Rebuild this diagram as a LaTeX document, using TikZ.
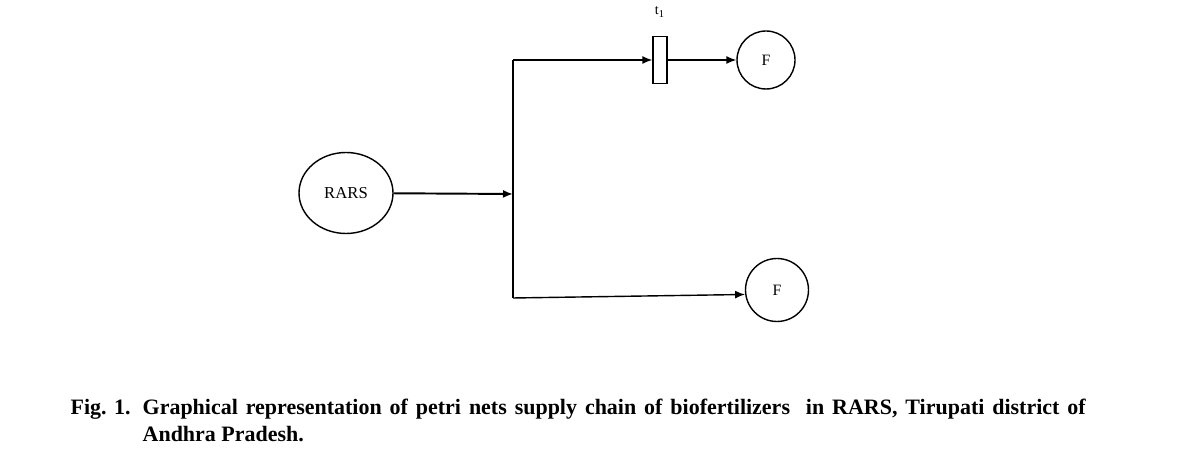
\documentclass[tikz,border=0pt]{standalone}
\usepackage{fontspec}
\setmainfont{Liberation Serif}
\usetikzlibrary{positioning, shapes.geometric, arrows, arrows.meta}

\begin{document}
\begin{tikzpicture}[>={Latex[length=2mm, width=1.6mm]}, line width=0.8pt]
            \useasboundingbox (0, 0) rectangle (23.78, 9.3);

            \node [shape = ellipse, draw = black, inner sep = 0pt, minimum width = 1.88cm, minimum height = 1.62cm, font = \fontsize{9.5}{11}\selectfont] (rars) at (6.92, 5.44) {RARS};
            \coordinate (jmid) at (10.26, 5.42);
            \coordinate (jtop) at (10.26, 8.10);
            \coordinate (jbot) at (10.26, 3.34);
            \node [shape = rectangle, draw = black, inner sep = 0pt, minimum width = 0.28cm, minimum height = 0.94cm] (t1) at (13.2, 8.10) {};
            \node [font = \fontsize{8}{9}\selectfont] (t1label) at (13.2, 9.06) {t\textsubscript{1}};
            \node [shape = circle, draw = black, inner sep = 0pt, minimum size = 1.16cm, font = \fontsize{9}{10}\selectfont] (ftop) at (15.32, 8.10) {F};
            \node [shape = circle, draw = black, inner sep = 0pt, minimum size = 1.26cm, font = \fontsize{9}{10}\selectfont] (fbot) at (15.54, 3.50) {F};

            \draw [->, line width = 1.1pt] (rars) -- (jmid);
            \draw (jtop) -- (jbot);
            \draw [->] (jtop) -- (t1);
            \draw [->] (t1) -- (ftop);
            \draw [->] (jbot) -- (fbot.188);

            \node [anchor = base west, inner sep = 0pt, font = \fontsize{12.5}{15}\selectfont\bfseries] (fig) at (1.40, 1.0) {Fig. 1.};
            \node [anchor = base west, inner sep = 0pt, font = \fontsize{12.5}{15}\selectfont\bfseries] (line1) at (2.84, 1.0) {\makebox[18.86cm][s]{Graphical representation of petri nets supply chain of biofertilizers \ in RARS, Tirupati district of}};
            \node [anchor = base west, inner sep = 0pt, font = \fontsize{12.5}{15}\selectfont\bfseries] (line2) at (2.84, 0.46) {Andhra Pradesh.};
        \end{tikzpicture}
\end{document}
